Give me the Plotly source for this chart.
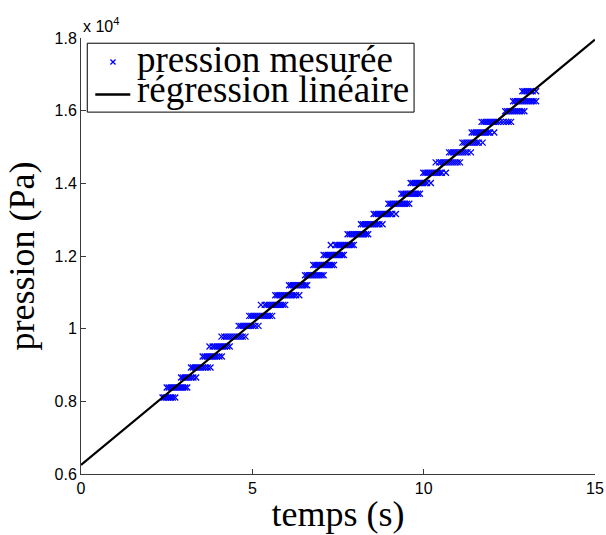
import numpy as np
import plotly.graph_objects as go

# ---- measured pressure: one quantised level per step, sample times per level ----
p_levels = [8105, 8380, 8655, 8930, 9232, 9507, 9782, 10076, 10351, 10654,
            10920, 11195, 11470, 11753, 12028, 12303, 12597, 12872, 13155, 13438,
            13713, 14007, 14290, 14576, 14851, 15120, 15400, 15692, 15986, 16261,
            16536]
level_counts = [8, 11, 8, 10, 10, 10, 12, 10, 12, 12,
                12, 10, 10, 11, 11, 11, 11, 11, 11, 11,
                10, 10, 11, 12, 11, 10, 11, 14, 10, 12,
                7]
t_meas = [
    2.38, 2.43, 2.48, 2.53, 2.58, 2.63, 2.68, 2.75,
    2.50, 2.56, 2.62, 2.68, 2.74, 2.80, 2.86, 2.92, 2.98, 3.04, 3.10,
    2.92, 2.98, 3.04, 3.10, 3.16, 3.22, 3.28, 3.36,
    3.21, 3.27, 3.33, 3.39, 3.45, 3.51, 3.57, 3.63, 3.70, 3.78,
    3.55, 3.61, 3.67, 3.73, 3.79, 3.85, 3.91, 3.97, 4.04, 4.11,
    3.75, 3.84, 3.90, 3.96, 4.02, 4.08, 4.14, 4.20, 4.27, 4.34,
    4.10, 4.18, 4.24, 4.30, 4.36, 4.42, 4.48, 4.54, 4.60, 4.66, 4.72, 4.80,
    4.60, 4.66, 4.72, 4.78, 4.84, 4.90, 4.96, 5.02, 5.09, 5.18,
    4.91, 4.97, 5.03, 5.09, 5.15, 5.21, 5.27, 5.33, 5.39, 5.45, 5.51, 5.58,
    5.25, 5.36, 5.42, 5.48, 5.54, 5.60, 5.66, 5.72, 5.78, 5.84, 5.90, 5.96,
    5.67, 5.73, 5.79, 5.85, 5.91, 5.97, 6.03, 6.09, 6.15, 6.21, 6.28, 6.37,
    6.07, 6.13, 6.19, 6.25, 6.31, 6.37, 6.43, 6.49, 6.55, 6.60,
    6.54, 6.60, 6.66, 6.72, 6.78, 6.84, 6.90, 6.96, 7.02, 7.08,
    6.78, 6.84, 6.90, 6.96, 7.02, 7.08, 7.14, 7.20, 7.26, 7.32, 7.38,
    7.08, 7.14, 7.20, 7.26, 7.32, 7.38, 7.44, 7.50, 7.56, 7.62, 7.67,
    7.29, 7.42, 7.48, 7.54, 7.60, 7.66, 7.72, 7.78, 7.84, 7.90, 7.96,
    7.78, 7.84, 7.90, 7.96, 8.02, 8.08, 8.14, 8.20, 8.26, 8.32, 8.38,
    8.17, 8.23, 8.29, 8.35, 8.41, 8.47, 8.53, 8.59, 8.65, 8.71, 8.80,
    8.54, 8.60, 8.66, 8.72, 8.78, 8.84, 8.90, 8.96, 9.02, 9.08, 9.19,
    8.97, 9.03, 9.09, 9.15, 9.21, 9.27, 9.33, 9.39, 9.45, 9.51, 9.58,
    9.35, 9.41, 9.47, 9.53, 9.59, 9.65, 9.71, 9.77, 9.83, 9.89,
    9.62, 9.68, 9.74, 9.80, 9.86, 9.92, 9.98, 10.04, 10.10, 10.21,
    9.99, 10.05, 10.11, 10.17, 10.23, 10.29, 10.35, 10.41, 10.47, 10.53, 10.65,
    10.35, 10.45, 10.51, 10.57, 10.63, 10.69, 10.75, 10.81, 10.87, 10.93, 10.99, 11.06,
    10.74, 10.80, 10.86, 10.92, 10.98, 11.04, 11.10, 11.16, 11.22, 11.28, 11.38,
    11.13, 11.19, 11.25, 11.31, 11.37, 11.43, 11.49, 11.55, 11.61, 11.72,
    11.40, 11.46, 11.52, 11.58, 11.64, 11.70, 11.76, 11.82, 11.88, 11.94, 12.06,
    11.69, 11.75, 11.81, 11.87, 11.93, 11.99, 12.05, 12.11, 12.17, 12.25, 12.33, 12.41, 12.48, 12.55,
    12.38, 12.44, 12.50, 12.56, 12.62, 12.68, 12.74, 12.80, 12.87, 12.94,
    12.61, 12.67, 12.73, 12.79, 12.85, 12.91, 12.97, 13.03, 13.09, 13.15, 13.21, 13.28,
    12.88, 12.94, 13.00, 13.06, 13.12, 13.18, 13.28,
]
p_meas = np.repeat(p_levels, level_counts)

# ---- linear regression line (end points) ----
fit_t = [0, 15]
fit_p = [6250, 17955]

# ---- ticks / labels ----
x_ticks = [0, 5, 10, 15]
y_ticks = [6000, 8000, 10000, 12000, 14000, 16000, 18000]
y_tick_labels = ["0.6", "0.8", "1", "1.2", "1.4", "1.6", "1.8"]
legend_labels = ["pression mesurée", "régression linéaire"]

serif = "Liberation Serif"
sans = "Liberation Sans"
axis_col = "#3a3a3a"
blue = "#0000ff"

fig = go.Figure()
fig.add_trace(go.Scatter(
    x=t_meas, y=p_meas, mode="markers", name=legend_labels[0],
    marker=dict(symbol="x-thin", size=6, color=blue,
                line=dict(width=1.3, color=blue)),
))
fig.add_trace(go.Scatter(
    x=fit_t, y=fit_p, mode="lines", name=legend_labels[1],
    line=dict(color="black", width=2.3),
))

# ---- legend box drawn in the MATLAB style (compact rows) ----
lg_x0, lg_x1, lg_y0, lg_y1 = 0.0122, 0.648, 0.830, 0.988
mk_x, mk_y, mk_dx, mk_dy = 0.0622, 0.945, 0.0050, 0.0058
ln_x0, ln_x1, ln_y = 0.0278, 0.0959, 0.8704
txt_x, txt_y = 0.1056, [0.951, 0.882]

shapes = [
    dict(type="rect", xref="paper", yref="paper", x0=lg_x0, x1=lg_x1, y0=lg_y0, y1=lg_y1,
         line=dict(color="black", width=1), fillcolor="white", layer="above"),
    dict(type="line", xref="paper", yref="paper", x0=mk_x - mk_dx, x1=mk_x + mk_dx,
         y0=mk_y - mk_dy, y1=mk_y + mk_dy, line=dict(color=blue, width=1.3), layer="above"),
    dict(type="line", xref="paper", yref="paper", x0=mk_x - mk_dx, x1=mk_x + mk_dx,
         y0=mk_y + mk_dy, y1=mk_y - mk_dy, line=dict(color=blue, width=1.3), layer="above"),
    dict(type="line", xref="paper", yref="paper", x0=ln_x0, x1=ln_x1, y0=ln_y, y1=ln_y,
         line=dict(color="black", width=2.3), layer="above"),
]
annotations = [
    dict(text="x 10<sup>4</sup>", xref="paper", yref="paper", x=0, y=1,
         xanchor="left", yanchor="bottom", showarrow=False, yshift=1,
         font=dict(family=sans, size=16, color="black")),
]
for lbl, ty in zip(legend_labels, txt_y):
    annotations.append(dict(
        text=lbl, xref="paper", yref="paper", x=txt_x, y=ty,
        xanchor="left", yanchor="middle", showarrow=False,
        font=dict(family=serif, size=37, color="black")))

fig.update_layout(
    width=606, height=535,
    margin=dict(l=81, r=11, t=38, b=61, autoexpand=False),
    paper_bgcolor="white", plot_bgcolor="white",
    showlegend=False,
    shapes=shapes,
    annotations=annotations,
    xaxis=dict(
        range=[0, 15], tickvals=x_ticks, ticks="inside", ticklen=5,
        tickcolor=axis_col, showline=True, linecolor=axis_col, linewidth=1,
        showgrid=False, zeroline=False, mirror=False, ticklabeloverflow="allow",
        tickfont=dict(family=sans, size=16, color="black"),
        title=dict(text="temps (s)", font=dict(family=serif, size=36, color="black"),
                   standoff=4),
    ),
    yaxis=dict(
        range=[6000, 18000], tickvals=y_ticks, ticktext=y_tick_labels,
        ticks="inside", ticklen=5, tickcolor=axis_col,
        showline=True, linecolor=axis_col, linewidth=1,
        showgrid=False, zeroline=False, mirror=False,
        tickfont=dict(family=sans, size=16, color="black"),
        title=dict(text="pression (Pa)", font=dict(family=serif, size=36, color="black"),
                   standoff=8),
    ),
)

fig.write_html("out.html",
               config={"displayModeBar": False},
               post_script="document.body.style.margin='0';document.body.style.overflow='hidden';")
